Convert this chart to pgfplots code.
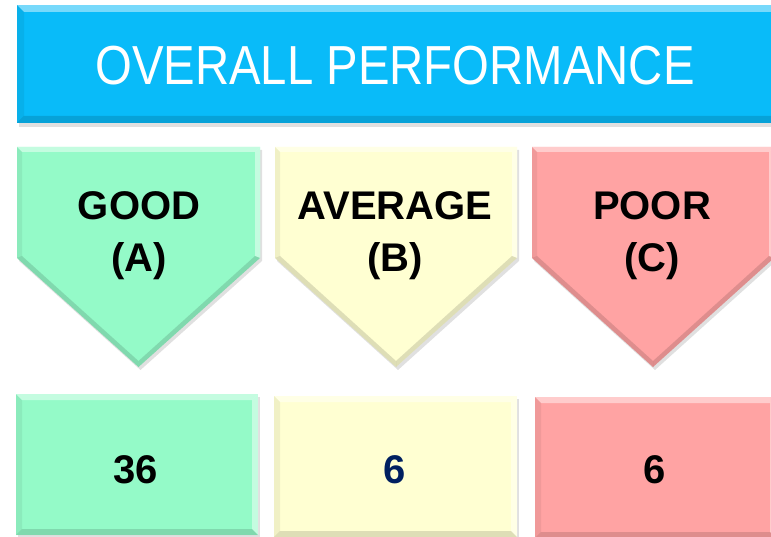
\documentclass[border=0pt]{standalone}
\usepackage{fontspec}
\setmainfont{Liberation Sans}
\newfontfamily\titlefont[FakeStretch=0.86]{Liberation Sans}
\usepackage{pgfplots}
\pgfplotsset{compat=1.18}
\definecolor{bluefill}{RGB}{9,187,249}
\definecolor{greenfill}{RGB}{148,250,200}
\definecolor{yellowfill}{RGB}{255,255,210}
\definecolor{pinkfill}{RGB}{255,163,163}
\definecolor{navy}{RGB}{0,32,96}
\tikzset{
  lite/.style={fill=white,fill opacity=0.45,draw=none},
  dark/.style={fill=black,fill opacity=0.13,draw=none},
  mid/.style={fill=black,fill opacity=0.06,draw=none},
  shadow/.style={fill=black,fill opacity=0.12,draw=none},
  lbl/.style={font=\bfseries\fontsize{40}{44}\selectfont,anchor=base,text=black},
}
\pgfplotsset{valnode/.style={draw=none,mark=none,forget plot,
  point meta=explicit symbolic,
  nodes near coords={\bfseries\fontsize{40}{44}\selectfont\pgfplotspointmeta},
  every node near coord/.append style={anchor=base,text=#1}}}
\begin{document}
\begin{tikzpicture}
\begin{axis}[width=771pt,height=537pt,scale only axis,
  xmin=0,xmax=771,ymin=0,ymax=537,y dir=reverse,hide axis,clip=true]
% ---- banner ----
\addplot[shadow,forget plot] coordinates {(19,8)(792,8)(792,127)(19,127)};
\addplot[fill=bluefill,draw=none,forget plot] coordinates {(17,5)(790,5)(790,123)(17,123)};
\addplot[lite,forget plot] coordinates {(17,5)(790,5)(783,12)(24,12)};
\addplot[dark,forget plot] coordinates {(17,123)(790,123)(783,116)(24,116)};
\addplot[mid,forget plot] coordinates {(17,5)(24,12)(24,116)(17,123)};
% ---- green pentagon ----
\addplot[shadow,forget plot] coordinates {(19,150)(262,150)(262,261)(140.5,370)(19,261)};
\addplot[fill=greenfill,draw=none,forget plot] coordinates {(17,147)(260,147)(260,258)(138.5,367)(17,258)};
\addplot[lite,forget plot] coordinates {(17,147)(260,147)(255,152)(22,152)};
\addplot[lite,forget plot] coordinates {(260,147)(260,258)(255,256)(255,152)};
\addplot[dark,forget plot] coordinates {(260,258)(138.5,367)(138.5,361)(255,256)};
\addplot[dark,forget plot] coordinates {(138.5,367)(17,258)(22,256)(138.5,361)};
\addplot[mid,forget plot] coordinates {(17,147)(22,152)(22,256)(17,258)};
% ---- yellow pentagon ----
\addplot[shadow,forget plot] coordinates {(277,150)(519,150)(519,261)(398,370)(277,261)};
\addplot[fill=yellowfill,draw=none,forget plot] coordinates {(275,147)(517,147)(517,258)(396,367)(275,258)};
\addplot[lite,forget plot] coordinates {(275,147)(517,147)(512,152)(280,152)};
\addplot[lite,forget plot] coordinates {(517,147)(517,258)(512,256)(512,152)};
\addplot[dark,forget plot] coordinates {(517,258)(396,367)(396,361)(512,256)};
\addplot[dark,forget plot] coordinates {(396,367)(275,258)(280,256)(396,361)};
\addplot[mid,forget plot] coordinates {(275,147)(280,152)(280,256)(275,258)};
% ---- pink pentagon ----
\addplot[shadow,forget plot] coordinates {(534,150)(776,150)(776,261)(655,370)(534,261)};
\addplot[fill=pinkfill,draw=none,forget plot] coordinates {(532,147)(774,147)(774,258)(653,367)(532,258)};
\addplot[lite,forget plot] coordinates {(532,147)(774,147)(769,152)(537,152)};
\addplot[lite,forget plot] coordinates {(774,147)(774,258)(769,256)(769,152)};
\addplot[dark,forget plot] coordinates {(774,258)(653,367)(653,361)(769,256)};
\addplot[dark,forget plot] coordinates {(653,367)(532,258)(537,256)(653,361)};
\addplot[mid,forget plot] coordinates {(532,147)(537,152)(537,256)(532,258)};
% ---- green box ----
\addplot[shadow,forget plot] coordinates {(18,397)(260,397)(260,538)(18,538)};
\addplot[fill=greenfill,draw=none,forget plot] coordinates {(16,394)(258,394)(258,535)(16,535)};
\addplot[lite,forget plot] coordinates {(16,394)(258,394)(252,400)(22,400)};
\addplot[dark,forget plot] coordinates {(16,535)(258,535)(252,529)(22,529)};
\addplot[mid,forget plot] coordinates {(16,394)(22,400)(22,529)(16,535)};
\addplot[lite,forget plot] coordinates {(258,394)(258,535)(252,529)(252,400)};
% ---- yellow box ----
\addplot[shadow,forget plot] coordinates {(276,399)(519,399)(519,540)(276,540)};
\addplot[fill=yellowfill,draw=none,forget plot] coordinates {(274,396)(517,396)(517,537)(274,537)};
\addplot[lite,forget plot] coordinates {(274,396)(517,396)(511,402)(280,402)};
\addplot[dark,forget plot] coordinates {(274,537)(517,537)(511,531)(280,531)};
\addplot[mid,forget plot] coordinates {(274,396)(280,402)(280,531)(274,537)};
\addplot[lite,forget plot] coordinates {(517,396)(517,537)(511,531)(511,402)};
% ---- pink box ----
\addplot[shadow,forget plot] coordinates {(537,400)(778,400)(778,541)(537,541)};
\addplot[fill=pinkfill,draw=none,forget plot] coordinates {(535,397)(776,397)(776,538)(535,538)};
\addplot[lite,forget plot] coordinates {(535,397)(776,397)(770,403)(541,403)};
\addplot[dark,forget plot] coordinates {(535,538)(776,538)(770,532)(541,532)};
\addplot[mid,forget plot] coordinates {(535,397)(541,403)(541,532)(535,538)};
\addplot[lite,forget plot] coordinates {(776,397)(776,538)(770,532)(770,403)};
% ---- values ----
\addplot[valnode=black] coordinates {(136,483) [36]};
\addplot[valnode=navy] coordinates {(395,483) [6]};
\addplot[valnode=black] coordinates {(655,483) [6]};
% ---- texts ----
\node[text=white,font=\titlefont\fontsize{55}{60}\selectfont,anchor=base] at (axis cs:395,85) {OVERALL PERFORMANCE};
\node[lbl] at (axis cs:139,220) {GOOD};
\node[lbl] at (axis cs:139,272) {(A)};
\node[lbl] at (axis cs:395,220) {AVERAGE};
\node[lbl] at (axis cs:395,272) {(B)};
\node[lbl] at (axis cs:652,220) {POOR};
\node[lbl] at (axis cs:652,272) {(C)};
\end{axis}
\pgfresetboundingbox
\path (current axis.south west) rectangle (current axis.north east);
\end{tikzpicture}
\end{document}
